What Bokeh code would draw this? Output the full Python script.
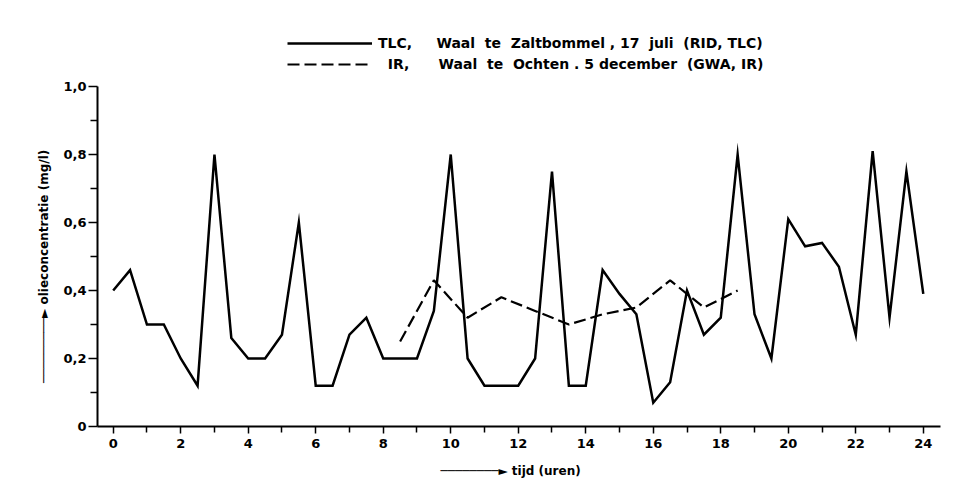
from bokeh.plotting import figure
from bokeh.models import FixedTicker, CustomJSTickFormatter, Legend, LegendItem, Range1d
from bokeh.embed import file_html
from bokeh.resources import INLINE

# --- data ---
hours = [0, 0.5, 1, 1.5, 2, 2.5, 3, 3.5, 4, 4.5, 5, 5.5, 6, 6.5, 7, 7.5, 8, 8.5,
         9, 9.5, 10, 10.5, 11, 11.5, 12, 12.5, 13, 13.5, 14, 14.5, 15, 15.5, 16,
         16.5, 17, 17.5, 18, 18.5, 19, 19.5, 20, 20.5, 21, 21.5, 22, 22.5, 23,
         23.5, 24]
tlc = [0.40, 0.46, 0.30, 0.30, 0.20, 0.12, 0.80, 0.26, 0.20, 0.20, 0.27, 0.60,
       0.12, 0.12, 0.27, 0.32, 0.20, 0.20, 0.20, 0.34, 0.80, 0.20, 0.12, 0.12,
       0.12, 0.20, 0.75, 0.12, 0.12, 0.46, 0.39, 0.33, 0.07, 0.13, 0.40, 0.27,
       0.32, 0.80, 0.33, 0.20, 0.61, 0.53, 0.54, 0.47, 0.27, 0.81, 0.32, 0.75,
       0.39]
ir_hours = [8.5, 9.5, 10.5, 11.5, 12.5, 13.5, 14.5, 15.5, 16.5, 17.5, 18.5]
ir = [0.25, 0.43, 0.32, 0.38, 0.34, 0.30, 0.33, 0.35, 0.43, 0.35, 0.40]

x_ticks = [0, 2, 4, 6, 8, 10, 12, 14, 16, 18, 20, 22, 24]
x_minor = [1, 3, 5, 7, 9, 11, 13, 15, 17, 19, 21, 23]
y_ticks = [0, 0.2, 0.4, 0.6, 0.8, 1.0]
y_minor = [0.1, 0.3, 0.5, 0.7, 0.9]

NB = "\u00a0"
S2 = " " + NB
label_tlc = ("TLC," + NB * 5 + "Waal" + S2 + "te" + S2 + "Zaltbommel , "
             + "17" + S2 + "juli" + NB * 2 + "(RID, TLC)")
label_ir = (NB * 2 + "IR," + NB * 6 + "Waal" + S2 + "te" + S2 + "Ochten . 5 "
            + "december" + NB * 2 + "(GWA, IR)")
x_label = "\u2500" * 8 + "\u25ba tijd (uren)" + NB * 4
y_label = "\u2500" * 9 + "\u25ba olieconcentratie (mg/l)" + NB * 21

FONT = "DejaVu Sans"

p = figure(width=948, height=480, output_backend="svg", toolbar_location=None,
           x_range=Range1d(-0.465, 24.51), y_range=Range1d(0, 1.2),
           min_border_left=97, min_border_right=8, min_border_top=18,
           min_border_bottom=54)
p.outline_line_color = None
p.background_fill_color = "white"
p.border_fill_color = "white"
p.xgrid.visible = False
p.ygrid.visible = False

r1 = p.line(hours, tlc, line_width=2.5, line_color="black", line_join="miter")
r2 = p.line(ir_hours, ir, line_width=2.2, line_color="black", line_dash="12 5")

# axes
xa = p.xaxis[0]
xa.ticker = FixedTicker(ticks=x_ticks, minor_ticks=x_minor)
xa.axis_line_width = 2
xa.major_tick_line_width = 1.5
xa.minor_tick_line_width = 1.5
xa.major_tick_in = 0
xa.major_tick_out = 7
xa.minor_tick_in = 0
xa.minor_tick_out = 6
xa.major_label_standoff = 5
xa.major_label_text_font = FONT
xa.major_label_text_font_size = "13px"
xa.major_label_text_font_style = "bold"
xa.major_label_text_color = "black"
xa.axis_label = x_label
xa.axis_label_text_font = FONT
xa.axis_label_text_font_size = "12px"
xa.axis_label_text_font_style = "bold"
xa.axis_label_text_color = "black"
xa.axis_label_standoff = 13

ya = p.yaxis[0]
ya.bounds = (0, 1.0)
ya.ticker = FixedTicker(ticks=y_ticks, minor_ticks=y_minor)
ya.formatter = CustomJSTickFormatter(code="return tick == 0 ? '0' : tick.toFixed(1).replace('.', ',');")
ya.axis_line_width = 2
ya.major_tick_line_width = 1.5
ya.minor_tick_line_width = 1.5
ya.major_tick_in = 0
ya.major_tick_out = 9
ya.minor_tick_in = 0
ya.minor_tick_out = 7
ya.major_label_standoff = 2
ya.major_label_text_font = FONT
ya.major_label_text_font_size = "13px"
ya.major_label_text_font_style = "bold"
ya.major_label_text_color = "black"
ya.axis_label = y_label
ya.axis_label_text_font = FONT
ya.axis_label_text_font_size = "12px"
ya.axis_label_text_font_style = "bold"
ya.axis_label_text_color = "black"
ya.axis_label_standoff = 9

legend = Legend(items=[LegendItem(label=label_tlc, renderers=[r1]),
                       LegendItem(label=label_ir, renderers=[r2])],
                location=(190, 353), orientation="vertical",
                glyph_width=85, glyph_height=18, label_height=18,
                label_standoff=6, spacing=3, padding=0, margin=0,
                label_text_font=FONT, label_text_font_size="14px",
                label_text_font_style="bold", label_text_color="black",
                border_line_color=None, background_fill_alpha=0)
p.add_layout(legend, "center")

open("out.html", "w").write(file_html(p, INLINE))
